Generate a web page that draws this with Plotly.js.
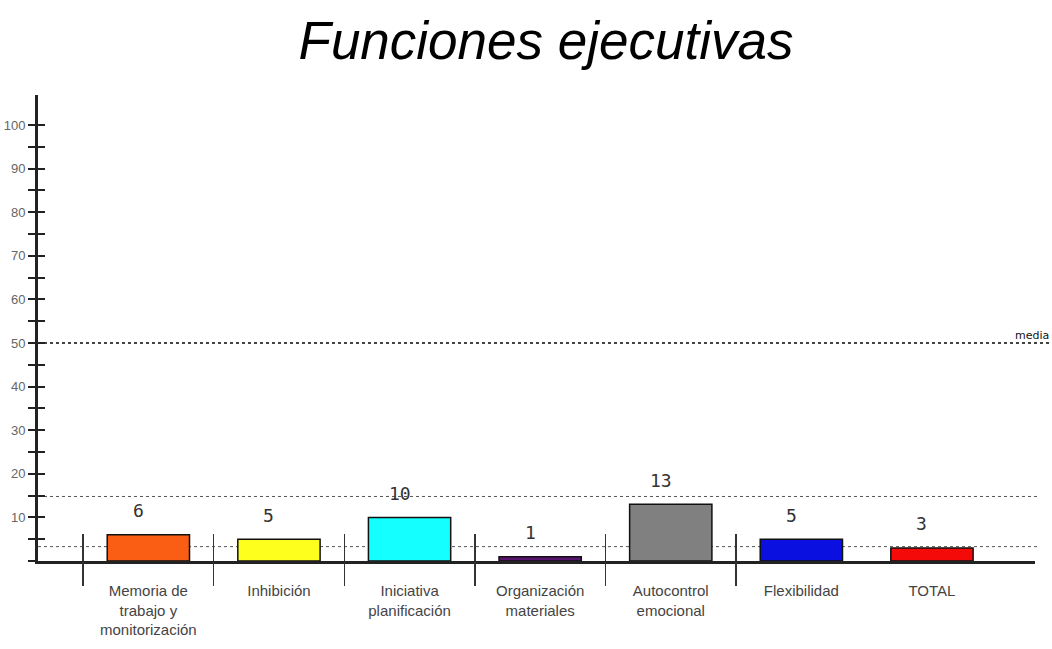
<!DOCTYPE html>
<html>
<head>
<meta charset="utf-8">
<script src="https://cdn.plot.ly/plotly-3.0.1.min.js"></script>
<style>html,body{margin:0;padding:0;background:#fff;}#chart{width:1052px;height:649px;}</style>
</head>
<body>
<div id="chart"></div>
<script>
// ---- data ----
const categories = [
  "Memoria de<br>trabajo y<br>monitorización",
  "Inhibición",
  "Iniciativa<br>planificación",
  "Organización<br>materiales",
  "Autocontrol<br>emocional",
  "Flexibilidad",
  "TOTAL"
];
const values = [6, 5, 10, 1, 13, 5, 3];
const barColors = ["#F95E14", "#FFFF1E", "#14FFFF", "#5A1470", "#808080", "#0A10E0", "#F50A0A"];
const refLines = [50, 14.8, 3.3];       // media line and band limits
const refLabel = "media";
const yTickVals = [0,5,10,15,20,25,30,35,40,45,50,55,60,65,70,75,80,85,90,95,100];
const yTickText = ["","","10","","20","","30","","40","","50","","60","","70","","80","","90","","100"];
const title = "Funciones ejecutivas";

// ---- build ----
const idx = categories.map((c, i) => i);
const sepVals = idx.slice(0, -1).map(i => i - 0.5);
const xRange = [-0.845, 6.789];
const yRange = [0, 106.9];
const sans = "Liberation Sans, Arial, sans-serif";

const trace = {
  type: "bar",
  x: idx,
  y: values,
  width: 0.63,
  marker: { color: barColors, line: { color: "#111", width: 1.5 } },
  hoverinfo: "skip",
  showlegend: false
};
// empty helper traces so the overlay tick axes get drawn
const helpers = [
  { type: "scatter", x: [], y: [], xaxis: "x2", yaxis: "y", showlegend: false, hoverinfo: "skip" },
  { type: "scatter", x: [], y: [], xaxis: "x3", yaxis: "y", showlegend: false, hoverinfo: "skip" },
  { type: "scatter", x: [], y: [], xaxis: "x", yaxis: "y2", showlegend: false, hoverinfo: "skip" }
];

const annotations = values.map((v, i) => ({
  x: i, y: v, xref: "x", yref: "y",
  text: String(v), showarrow: false,
  xshift: -10, yshift: 24, yanchor: "middle",
  font: { family: "DejaVu Sans Mono, Liberation Mono, monospace", size: 18, color: "#333" }
}));
annotations.push({
  x: 1, y: refLines[0], xref: "paper", yref: "y",
  text: refLabel, showarrow: false, xanchor: "right", yanchor: "bottom",
  xshift: 16, yshift: -1,
  font: { family: "DejaVu Sans, sans-serif", size: 11, color: "#111" }
});

const shapes = refLines.map((v, i) => ({
  type: "line", xref: "paper", yref: "y",
  x0: 0, x1: i === 0 ? 1.018 : 1.005, y0: v, y1: v,
  line: { color: i === 0 ? "#444" : "#555", width: i === 0 ? 2 : 1, dash: "dot" },
  layer: "below"
}));

const layout = {
  width: 1052, height: 649,
  paper_bgcolor: "#fff", plot_bgcolor: "#fff",
  margin: { l: 38, r: 17, t: 95, b: 88 },
  title: {
    text: title, x: 0.519, xanchor: "center", y: 0.967, yanchor: "top",
    font: { family: sans, size: 53, color: "#000", style: "italic" }
  },
  showlegend: false,
  bargap: 0.37,
  xaxis: {
    range: xRange, tickmode: "array", tickvals: idx, ticktext: categories,
    ticks: "outside", ticklen: 14, tickcolor: "rgba(0,0,0,0)",
    showline: true, linecolor: "#222", linewidth: 3,
    showgrid: false, zeroline: false, fixedrange: true,
    tickfont: { family: sans, size: 15, color: "#444" }
  },
  xaxis2: {
    overlaying: "x", anchor: "y", range: xRange, tickmode: "array", tickvals: sepVals,
    ticks: "outside", ticklen: 24, tickwidth: 1.5, tickcolor: "#333",
    showticklabels: false, showline: false, showgrid: false, zeroline: false
  },
  xaxis3: {
    overlaying: "x", anchor: "y", range: xRange, tickmode: "array", tickvals: sepVals,
    ticks: "inside", ticklen: 27, tickwidth: 1.5, tickcolor: "#333",
    showticklabels: false, showline: false, showgrid: false, zeroline: false
  },
  yaxis: {
    range: yRange, tickmode: "array", tickvals: yTickVals, ticktext: yTickText,
    ticks: "outside", ticklen: 7, tickwidth: 2, tickcolor: "#222",
    showline: true, linecolor: "#222", linewidth: 3,
    showgrid: false, zeroline: false, fixedrange: true,
    tickfont: { family: sans, size: 13, color: "#666" }
  },
  yaxis2: {
    overlaying: "y", anchor: "x", side: "left", range: yRange, tickmode: "array", tickvals: yTickVals,
    ticks: "inside", ticklen: 7, tickwidth: 2, tickcolor: "#222",
    showticklabels: false, showline: false, showgrid: false, zeroline: false
  },
  shapes: shapes,
  annotations: annotations
};

Plotly.newPlot("chart", [trace].concat(helpers), layout, { displayModeBar: false, staticPlot: true });
</script>
</body>
</html>
